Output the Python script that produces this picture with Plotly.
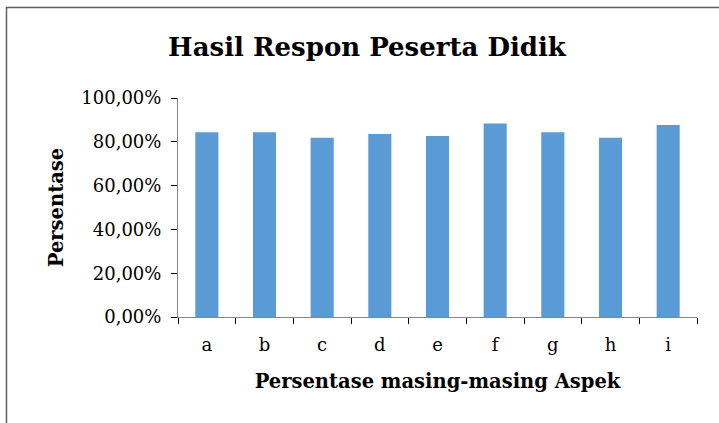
import plotly.graph_objects as go

categories = ["a", "b", "c", "d", "e", "f", "g", "h", "i"]
values = [0.844, 0.844, 0.818, 0.836, 0.827, 0.884, 0.844, 0.818, 0.877]

title_text = "Hasil Respon Peserta Didik"
x_title = "Persentase masing-masing Aspek"
y_title = "Persentase"

W, H = 719, 423
left_px, right_px, top_px, bottom_px = 178, 697, 98, 317  # plot area in pixels
L, R, T, B = left_px, W - right_px, top_px, H - bottom_px
pw, ph = W - L - R, H - T - B

def px(x):
    return (x - L) / pw

def py(y):
    return (H - B - y) / ph

serif = "DejaVu Serif"

fig = go.Figure(go.Bar(
    x=categories, y=values,
    marker=dict(color="#5B9BD5", line=dict(width=0)),
    width=0.4,
))

fig.update_layout(
    width=W, height=H,
    margin=dict(l=L, r=R, t=T, b=B, pad=0),
    paper_bgcolor="white", plot_bgcolor="white",
    separators=",.",
    showlegend=False,
    font=dict(family=serif, color="#000000"),
    title=dict(text="<b>" + title_text + "</b>", x=px(367), xref="paper", xanchor="center",
               y=1 - 47 / H, yanchor="middle", yref="container",
               font=dict(family=serif, size=26, color="#000000")),
    bargap=0.6,
)

fig.update_xaxes(
    type="category", tickson="boundaries", ticks="outside", ticklen=6, tickwidth=1,
    tickcolor="#000000", showline=True, linecolor="#868686", linewidth=1,
    showgrid=False, zeroline=False, tickfont=dict(family=serif, size=18),
    ticklabelstandoff=11,
    title=dict(text="<b>" + x_title + "</b>", font=dict(family=serif, size=19.5), standoff=20),
)
fig.update_yaxes(
    range=[0, 1], tickvals=[0, 0.2, 0.4, 0.6, 0.8, 1.0], tickformat=".2%",
    ticks="outside", ticklen=6, tickwidth=1, tickcolor="#000000",
    showline=True, linecolor="#868686", linewidth=1,
    showgrid=False, zeroline=False, tickfont=dict(family=serif, size=18),
    ticklabelstandoff=6,
    title=dict(text="<b>" + y_title + "</b>", font=dict(family=serif, size=19.5), standoff=12),
)

# outer chart frame (cropped screenshot: only top and left edges visible)
fig.add_shape(type="rect", xref="paper", yref="paper",
              x0=px(6.5), x1=px(760), y0=py(460), y1=py(7.5),
              line=dict(color="#5f5f5f", width=1.5), fillcolor="rgba(0,0,0,0)", layer="below")

fig.write_html("out.html", config={"displayModeBar": False},
               post_script="document.body.style.margin='0';document.body.style.overflow='hidden';")
